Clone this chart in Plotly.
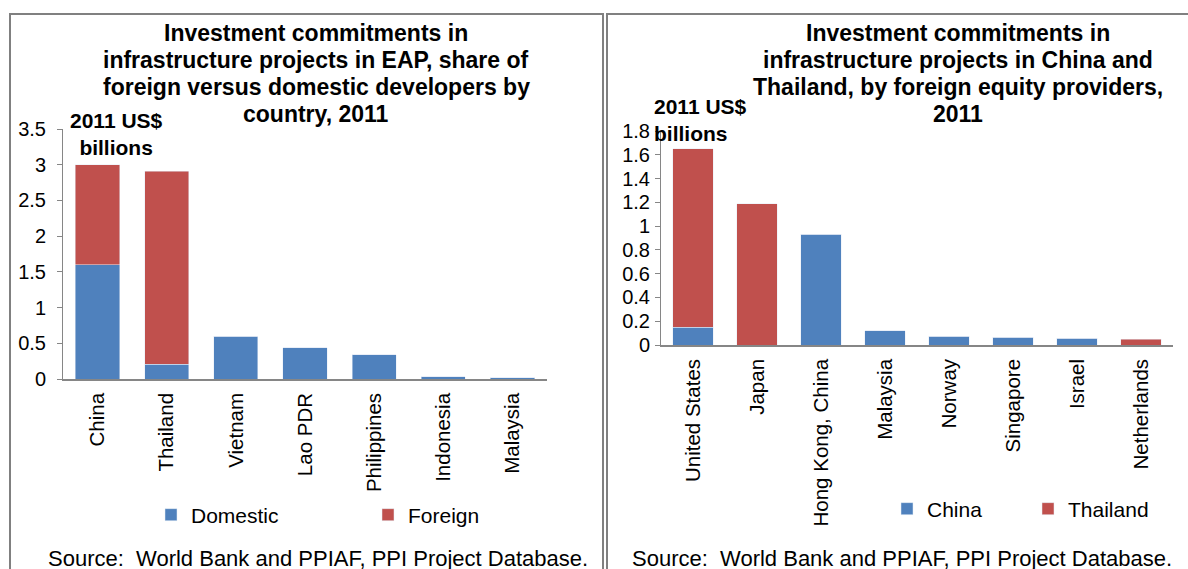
import plotly.graph_objects as go

W, H = 1188, 569

# ---- data ----
eap_countries = ["China", "Thailand", "Vietnam", "Lao PDR", "Philippines", "Indonesia", "Malaysia"]
eap_domestic = [1.60, 0.21, 0.60, 0.44, 0.34, 0.03, 0.02]
eap_foreign = [1.40, 2.70, 0.0, 0.0, 0.0, 0.0, 0.0]

providers = ["United States", "Japan", "Hong Kong, China", "Malaysia", "Norway", "Singapore", "Israel", "Netherlands"]
prov_china = [0.15, 0.0, 0.93, 0.12, 0.075, 0.065, 0.055, 0.0]
prov_thailand = [1.50, 1.19, 0.0, 0.0, 0.0, 0.0, 0.0, 0.048]

left_yticks = [0, 0.5, 1, 1.5, 2, 2.5, 3, 3.5]
right_yticks = [0, 0.2, 0.4, 0.6, 0.8, 1, 1.2, 1.4, 1.6, 1.8]

left_title = ["Investment commitments in", "infrastructure projects in EAP, share of",
              "foreign versus domestic developers by", "country, 2011"]
right_title = ["Investment commitments in", "infrastructure projects in China and",
               "Thailand, by foreign equity providers,", "2011"]
unit_text = "<b>2011 US$<br>billions</b>"
source_text = "Source:  World Bank and PPIAF, PPI Project Database."

BLUE = "#4F81BD"
RED = "#C0504D"
GRAY = "#868686"
FONT = "Liberation Sans, Arial, sans-serif"


def px(x):
    return x / W


def py(y):
    return 1 - y / H


fig = go.Figure()
fig.add_trace(go.Bar(x=eap_countries, y=eap_domestic, name="Domestic", marker_color=BLUE,
                     xaxis="x", yaxis="y", legend="legend"))
fig.add_trace(go.Bar(x=eap_countries, y=eap_foreign, name="Foreign", marker_color=RED,
                     xaxis="x", yaxis="y", legend="legend"))
fig.add_trace(go.Bar(x=providers, y=prov_china, name="China", marker_color=BLUE,
                     xaxis="x2", yaxis="y2", legend="legend2"))
fig.add_trace(go.Bar(x=providers, y=prov_thailand, name="Thailand", marker_color=RED,
                     xaxis="x2", yaxis="y2", legend="legend2"))

axis_common_x = dict(showline=True, linecolor=GRAY, linewidth=1.5, ticks="", tickangle=-90,
                     tickfont=dict(size=20.5, color="black", family=FONT), showgrid=False,
                     zeroline=False, automargin=False, fixedrange=True, ticklabelstandoff=4)
axis_common_y = dict(showline=True, linecolor=GRAY, linewidth=1, ticks="outside", ticklen=5,
                     tickcolor=GRAY, tickfont=dict(size=20, color="black", family=FONT),
                     showgrid=False, zeroline=False, automargin=False, fixedrange=True)

fig.update_layout(
    width=W, height=H,
    margin=dict(l=0, r=0, t=0, b=0),
    paper_bgcolor="white", plot_bgcolor="white",
    barmode="stack", bargap=0.36,
    font=dict(family=FONT, color="black"),
    xaxis=dict(domain=[px(63), px(547)], anchor="y", **axis_common_x),
    yaxis=dict(domain=[py(379), py(129)], anchor="x", range=[0, 3.5], tickvals=left_yticks,
               ticklabelstandoff=7, **axis_common_y),
    xaxis2=dict(domain=[px(661), px(1173)], anchor="y2", **axis_common_x),
    yaxis2=dict(domain=[py(345), py(131)], anchor="x2", range=[0, 1.8], tickvals=right_yticks,
                ticklabelstandoff=1, **axis_common_y),
    legend=dict(orientation="h", x=px(151), xanchor="left", y=py(515), yanchor="middle",
                font=dict(size=21, family=FONT), bgcolor="rgba(0,0,0,0)",
                entrywidth=172, entrywidthmode="pixels", traceorder="normal"),
    legend2=dict(orientation="h", x=px(887), xanchor="left", y=py(509), yanchor="middle",
                 font=dict(size=21, family=FONT), bgcolor="rgba(0,0,0,0)",
                 entrywidth=96, entrywidthmode="pixels", traceorder="normal"),
    showlegend=True,
)

# panel borders
fig.add_shape(type="rect", xref="paper", yref="paper", x0=px(10), x1=px(603), y0=-0.1, y1=py(14),
              line=dict(color="#808080", width=2), fillcolor="rgba(0,0,0,0)", layer="below")
fig.add_shape(type="rect", xref="paper", yref="paper", x0=px(607), x1=1.1, y0=-0.1, y1=py(14),
              line=dict(color="#808080", width=2), fillcolor="rgba(0,0,0,0)", layer="below")

title_font = dict(size=23, family=FONT, color="black")
line_y = [33, 60, 87, 114]
for txt, yy in zip(left_title, line_y):
    fig.add_annotation(xref="paper", yref="paper", x=px(316), y=py(yy), xanchor="center",
                       yanchor="middle", showarrow=False, font=title_font, text=f"<b>{txt}</b>")
for txt, yy in zip(right_title, line_y):
    fig.add_annotation(xref="paper", yref="paper", x=px(958), y=py(yy), xanchor="center",
                       yanchor="middle", showarrow=False, font=title_font, text=f"<b>{txt}</b>")

unit_font = dict(size=21, family=FONT, color="black")
fig.add_annotation(xref="paper", yref="paper", x=px(116), y=py(134), xanchor="center", yanchor="middle",
                   showarrow=False, align="center", font=unit_font, text=unit_text)
fig.add_annotation(xref="paper", yref="paper", x=px(652), y=py(120), xanchor="left", yanchor="middle",
                   showarrow=False, align="left", font=unit_font, text=unit_text)

src_font = dict(size=22, family=FONT, color="black")
fig.add_annotation(xref="paper", yref="paper", x=px(318), y=py(558), xanchor="center", yanchor="middle",
                   showarrow=False, font=src_font, text=source_text)
fig.add_annotation(xref="paper", yref="paper", x=px(902), y=py(558), xanchor="center", yanchor="middle",
                   showarrow=False, font=src_font, text=source_text)

fig.write_html("out.html", config=dict(displayModeBar=False),
               post_script="document.body.style.margin='0';document.body.style.overflow='hidden';")
